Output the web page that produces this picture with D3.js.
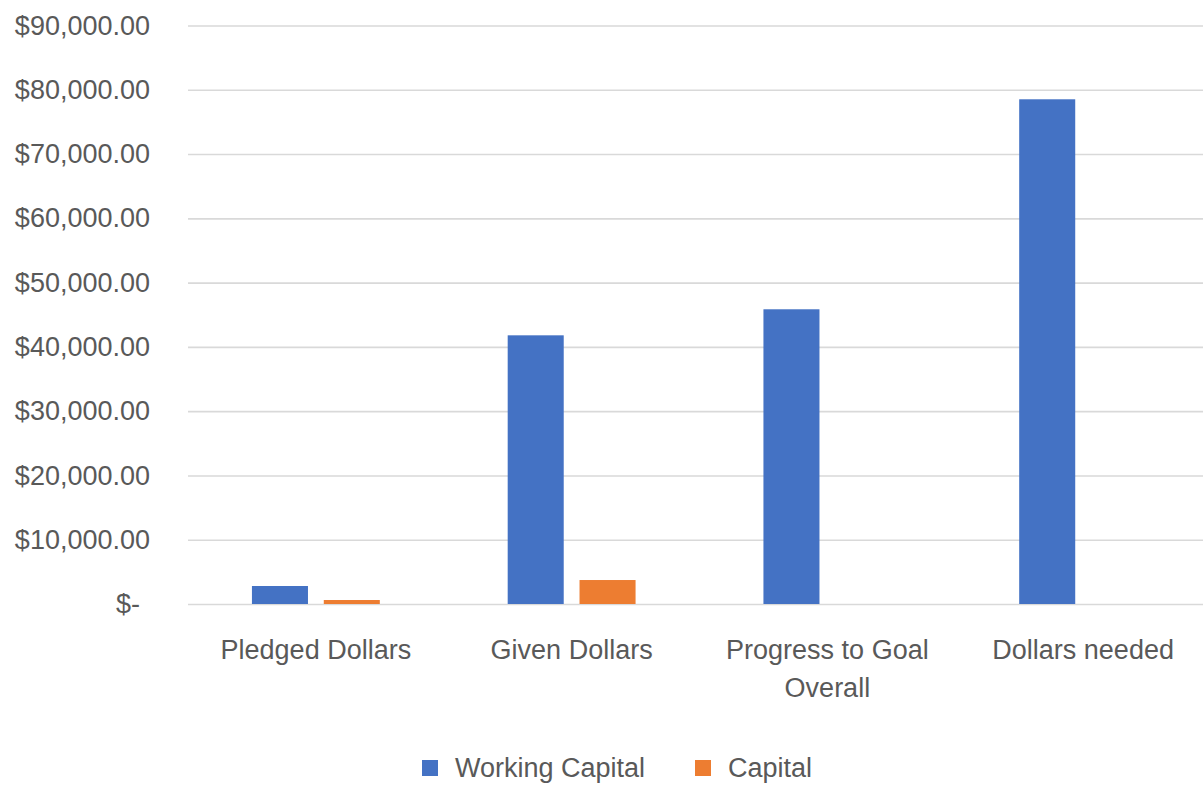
<!DOCTYPE html>
<html>
<head>
<meta charset="utf-8">
<script src="https://cdn.jsdelivr.net/npm/d3@7"></script>
<style>
  body { margin: 0; background: #fff; }
  svg { display: block; font-family: "Liberation Sans", Arial, sans-serif; }
</style>
</head>
<body>
<svg id="chart" width="1203" height="788"></svg>
<script>
// chart values
const categories = ["Pledged Dollars", "Given Dollars", "Progress to Goal Overall", "Dollars needed"];
const categoryLines = [["Pledged Dollars"], ["Given Dollars"], ["Progress to Goal", "Overall"], ["Dollars needed"]];
const seriesNames = ["Working Capital", "Capital"];
const workingCapital = [2800, 41800, 45850, 78520];
const capital = [620, 3730, 0, 0];
const yTicks = [0, 10000, 20000, 30000, 40000, 50000, 60000, 70000, 80000, 90000];

const colors = { "Working Capital": "#4472C4", "Capital": "#ED7D31" };
const textColor = "#595959";
const gridColor = "#D9D9D9";
const fontSize = 27;

const rows = categories.map((c, i) => ({
  cat: c,
  lines: categoryLines[i],
  values: [
    { key: seriesNames[0], value: workingCapital[i] },
    { key: seriesNames[1], value: capital[i] }
  ]
}));

const svg = d3.select("#chart");

const x0 = d3.scaleBand()
  .domain(categories)
  .range([188, 1211])
  .paddingInner(0.5)
  .paddingOuter(0.25);

const x1 = d3.scaleBand()
  .domain(seriesNames)
  .range([0, x0.bandwidth()])
  .paddingInner(0.22);

const y = d3.scaleLinear()
  .domain([0, 90000])
  .range([604, 25.5]);

// y axis with gridlines
const fmt = d3.format("$,.2f");
const yAxis = svg.append("g")
  .attr("transform", "translate(188,0)")
  .call(d3.axisLeft(y)
    .tickValues(yTicks)
    .tickSizeInner(-1015)
    .tickSizeOuter(0)
    .tickPadding(38)
    .tickFormat(d => d === 0 ? "$-" : fmt(d)));
yAxis.select(".domain").remove();
yAxis.selectAll(".tick line")
  .attr("stroke", gridColor)
  .attr("stroke-width", 1.6);
yAxis.selectAll(".tick text")
  .attr("fill", textColor)
  .attr("font-size", fontSize)
  .attr("font-family", "Liberation Sans, Arial, sans-serif")
  .attr("dx", d => d === 0 ? -10 : 0);

// bars
const groups = svg.append("g")
  .selectAll("g")
  .data(rows)
  .join("g")
  .attr("transform", d => "translate(" + x0(d.cat) + ",0)");

groups.selectAll("rect")
  .data(d => d.values)
  .join("rect")
  .attr("x", d => x1(d.key))
  .attr("width", x1.bandwidth())
  .attr("y", d => y(d.value))
  .attr("height", d => y(0) - y(d.value))
  .attr("fill", d => colors[d.key]);

// category labels
const catLabels = svg.append("g")
  .selectAll("text")
  .data(rows)
  .join("text")
  .attr("x", d => x0(d.cat) + x0.bandwidth() / 2)
  .attr("y", 659)
  .attr("text-anchor", "middle")
  .attr("fill", textColor)
  .attr("font-size", fontSize);
catLabels.selectAll("tspan")
  .data(d => d.lines)
  .join("tspan")
  .attr("x", function() { return d3.select(this.parentNode).attr("x"); })
  .attr("dy", (d, i) => i === 0 ? 0 : 38)
  .text(d => d);

// legend
const legendX = [422, 695];
const legend = svg.append("g")
  .selectAll("g")
  .data(seriesNames)
  .join("g")
  .attr("transform", (d, i) => "translate(" + legendX[i] + ",760)");
legend.append("rect")
  .attr("width", 16)
  .attr("height", 16)
  .attr("fill", d => colors[d]);
legend.append("text")
  .attr("x", 33)
  .attr("y", 17)
  .attr("fill", textColor)
  .attr("font-size", fontSize)
  .text(d => d);
</script>
</body>
</html>
